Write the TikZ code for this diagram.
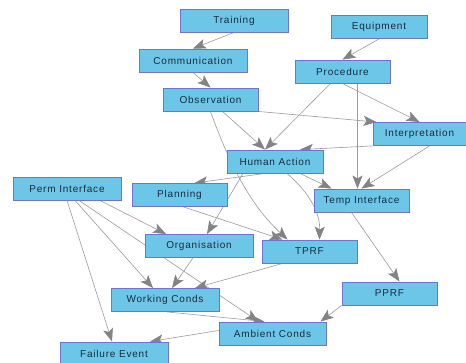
\documentclass[tikz,border=0pt]{standalone}
\usepackage{fontspec}
\setmainfont[LetterSpace=8]{Liberation Sans}
\usetikzlibrary{arrows.meta,backgrounds}
\definecolor{boxfill}{HTML}{6CC6E8}
\definecolor{boxline}{HTML}{7272D6}
\definecolor{edgecol}{HTML}{9C9C9C}
\definecolor{tipcol}{HTML}{838383}
\definecolor{txtcol}{HTML}{1C2A3C}
\begin{document}
\begin{tikzpicture}[x=1pt,y=-1pt,
  box/.style={draw=boxline,fill=boxfill,line width=0.9pt,minimum width=95pt,minimum height=23pt,
    inner sep=0pt,font=\fontsize{10}{12}\selectfont,text=txtcol},
  wbox/.style={box,minimum width=108pt},
  arr/.style={draw=edgecol,line width=0.6pt,-{Stealth[length=13pt,width=10pt,inset=3pt,fill=tipcol,color=tipcol]}}]
\useasboundingbox (0,0) rectangle (466,363);
% nodes
\node[wbox] (tr) at (234,20.5) {Training};
\node[box,minimum width=96pt] (eq) at (379,27) {Equipment};
\node[wbox] (co) at (193,60.5) {Communication};
\node[box] (pr) at (342.5,71.5) {Procedure};
\node[box] (ob) at (210.5,99.5) {Observation};
\node[box,minimum width=93pt] (in) at (419.5,134) {Interpretation};
\node[box,minimum width=96pt] (ha) at (275,161.5) {Human Action};
\node[box] (pl) at (179.5,195) {Planning};
\node[wbox] (pi) at (67,188.5) {Perm Interface};
\node[box] (ti) at (361.5,200.5) {Temp Interface};
\node[wbox] (or) at (199,246) {Organisation};
\node[box] (tp) at (309.5,251.5) {TPRF};
\node[box] (pp) at (389.5,293.5) {PPRF};
\node[wbox] (wc) at (165,300) {Working Conds};
\node[box,minimum width=107pt] (am) at (272.5,333.5) {Ambient Conds};
\node[wbox] (fe) at (114,353.5) {Failure Event};
% edges behind the boxes
\begin{pgfonlayer}{background}
\fill[white] (0,0) rectangle (466,363);
\path[arr] (tr.south) -- (co.north);
\path[arr] (co.south) -- (ob.north);
\path[arr] (eq.south) -- (pr.north);
\path[arr] (pr.south) -- (in.north);
\path[arr] ([xshift=-12]pr.south) -- ([xshift=-10]ha.north);
\path[arr] ([xshift=15]pr.south) -- ([xshift=-4]ti.north);
\path[arr] (ob.south east) -- ([xshift=4]in.north west);
\path[arr] ([xshift=12]ob.south) -- ([xshift=-10]ha.north);
\path[arr] (ob.south) .. controls (235,180) and (258,212) .. ([xshift=-22]tp.north);
\path[arr] (in.south west) -- ([xshift=25]ha.north);
\path[arr] ([xshift=10]in.south) -- (ti.north);
\path[arr] ([xshift=-10]ha.south) -- ([xshift=15]pl.north);
\path[arr] ([xshift=25]ha.south) -- ([xshift=-30]ti.north);
\path[arr] ([xshift=-32]ha.south) -- ([xshift=8]or.north);
\path[arr] ([xshift=12]ha.south) .. controls (312,195) and (320,215) .. ([xshift=10]tp.north);
\path[arr] ([xshift=4]pl.south) -- ([xshift=-27]tp.north);
\path[arr] ([xshift=33]pi.south) -- ([xshift=-33]or.north);
\path[arr] ([xshift=8]pi.south) -- ([xshift=-12]wc.north);
\path[arr] ([xshift=12]pi.south) -- ([xshift=-14]am.north);
\path[arr] (pi.south) -- ([xshift=-2]fe.north);
\path[arr] ([xshift=-6]or.south) -- ([xshift=7]wc.north);
\path[arr] ([xshift=-27]tp.south) -- ([xshift=30]wc.north);
\path[arr] ([xshift=2]wc.south) -- ([xshift=-8]am.north);
\path[arr] (pp.south west) -- ([xshift=48]am.north);
\path[arr] ([yshift=3]am.west) -- ([xshift=36]fe.north);
\path[arr] ([xshift=-10]ti.south) -- ([xshift=10]pp.north);
\end{pgfonlayer}
\end{tikzpicture}
\end{document}
